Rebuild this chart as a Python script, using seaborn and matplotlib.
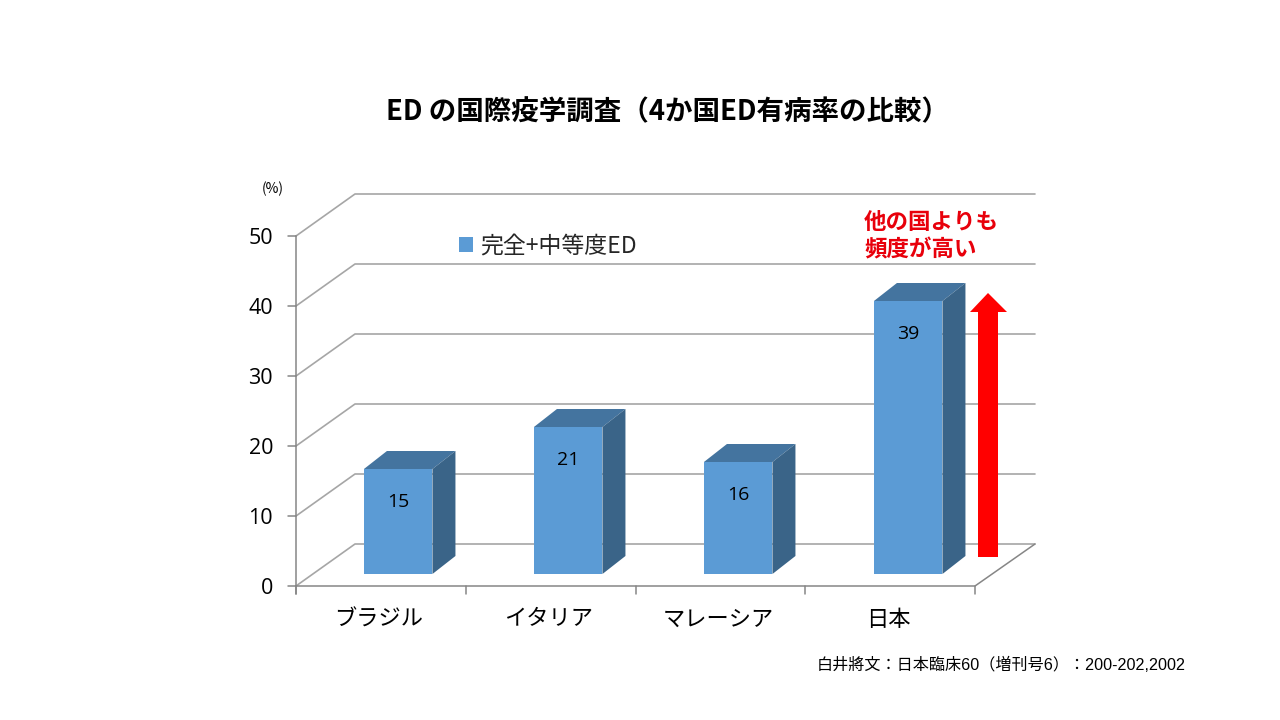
import matplotlib
matplotlib.use("Agg")
import matplotlib.pyplot as plt
import seaborn as sns
import pandas as pd

countries = ["ブラジル", "イタリア", "マレーシア", "日本"]
prevalence = [15, 21, 16, 39]
y_ticks = [0, 10, 20, 30, 40, 50]
series_name = "完全+中等度ED"
title = "ED の国際疫学調査（4か国ED有病率の比較）"
note = "他の国よりも\n頻度が高い"
source = "白井將文：日本臨床60（増刊号6）：200-202,2002"

sns.set_style("white")
plt.rcParams["font.family"] = ["Noto Sans CJK JP", "DejaVu Sans"]

FRONT = "#5B9BD5"
TOP = "#44749F"
SIDE = "#3A6488"
GRID = "#A6A6A6"
AXIS = "#868686"
DX, DY = 23, 18  # bar depth in pixels
PER_UNIT = 7  # pixels per percent


# pixel position -> data position (bars sit at x=0,1,2,3)
def px(x):
    return (x - 398.2) / 170


def py(y):
    return (574 - y) / PER_UNIT


fig = plt.figure(figsize=(12.8, 7.2), dpi=100)
ax = fig.add_axes([0, 0, 1, 1])

df = pd.DataFrame({"country": countries, "value": prevalence})
sns.barplot(data=df, x="country", y="value", color=FRONT, saturation=1, width=68.5 / 170,
            label=series_name, zorder=3, linewidth=0, ax=ax)
ax.set_xlim(px(0), px(1280))
ax.set_ylim(py(720), py(0))
ax.set_axis_off()

# walls and gridlines
for v in y_ticks:
    front = 586 - v * PER_UNIT
    back = 544 - v * PER_UNIT
    ax.plot([px(296), px(355), px(1035)], [py(front), py(back), py(back)], color=GRID, lw=1.2, zorder=1)
    ax.plot([px(288), px(296)], [py(front), py(front)], color=AXIS, lw=1.1, zorder=1)
    ax.text(px(273), py(front + 2), str(v), fontsize=15.5, ha="right", va="center", color="black",
            family=["Open Sans", "DejaVu Sans"])
ax.plot([px(296), px(296)], [py(236), py(594)], color=AXIS, lw=1.1, zorder=1)
ax.plot([px(296), px(975), px(1035)], [py(586), py(586), py(544)], color=AXIS, lw=1.1, zorder=1)
for i in range(5):
    x = 296 + i * 169.75
    ax.plot([px(x), px(x)], [py(586), py(594)], color=AXIS, lw=1.1, zorder=1)

# depth faces of the bars + labels
for i, (name, v) in enumerate(zip(countries, prevalence)):
    left = i - 34.25 / 170
    right = i + 34.25 / 170
    dx = DX / 170
    dy = DY / PER_UNIT
    ax.fill([left, right, right + dx, left + dx], [v, v, v + dy, v + dy], color=TOP, lw=0, zorder=3)
    ax.fill([right, right + dx, right + dx, right], [0, dy, v + dy, v], color=SIDE, lw=0, zorder=3)
    ax.text(i, v - 4.7, str(v), fontsize=14, ha="center", va="center", color="black", zorder=4,
            family=["Open Sans", "DejaVu Sans"])
    ax.text(px(381 + i * 169.75 - 2), py(619), name, fontsize=16, ha="center", va="center", color="black")

# red arrow
ax.fill([px(x) for x in [978, 998, 998, 1007, 988, 970, 978]],
        [py(y) for y in [557, 557, 312, 312, 293, 312, 312]], color="#FF0000", lw=0, zorder=4)

ax.text(px(668), py(112), title, fontsize=19.8, fontweight="bold", ha="center", va="center", color="black")
ax.text(px(262), py(189), "(%)", fontsize=10, ha="left", va="center", color="black")
ax.text(px(864), py(236), note, fontsize=16.2, fontweight="bold", ha="left", va="center", color="#E8000B",
        linespacing=1.25)
ax.text(px(1186), py(665), source, fontsize=11.6, ha="right", va="center", color="black",
        family=["Liberation Sans", "Noto Sans CJK JP"])

ax.legend(loc="center left", bbox_to_anchor=(452 / 1280, 1 - 246 / 720), frameon=False, fontsize=16.5,
          handlelength=0.62, handleheight=0.62, handletextpad=0.3, borderpad=0.3, borderaxespad=0)

fig.savefig("out.png", dpi=100)
